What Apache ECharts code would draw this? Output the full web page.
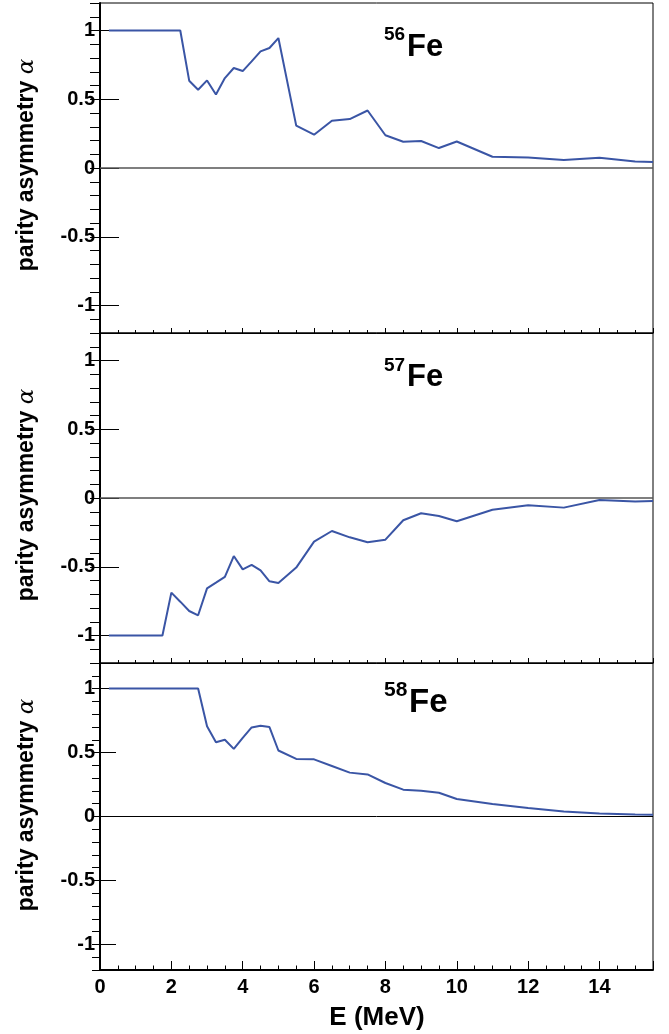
<!DOCTYPE html>
<html>
<head>
<meta charset="utf-8">
<script src="https://cdn.jsdelivr.net/npm/echarts@6/dist/echarts.min.js"></script>
<style>
html,body{margin:0;padding:0;background:#fff;}
#chart{width:669px;height:1034px;}
</style>
</head>
<body>
<div id="chart"></div>
<script>
// ---- data ----
const energies56 = [0.25, 2.25, 2.5, 2.75, 3.0, 3.25, 3.5, 3.75, 4.0, 4.25, 4.5, 4.75, 5.0, 5.5, 6.0, 6.5, 7.0, 7.5, 8.0, 8.5, 9.0, 9.5, 10, 11, 12, 13, 14, 15, 15.5];
const alpha56 = [1.0, 1.0, 0.635, 0.569, 0.637, 0.535, 0.654, 0.727, 0.705, 0.775, 0.848, 0.873, 0.945, 0.308, 0.242, 0.344, 0.356, 0.418, 0.238, 0.191, 0.196, 0.145, 0.193, 0.082, 0.076, 0.058, 0.075, 0.048, 0.044];

const energies57 = [0.25, 1.75, 2.0, 2.25, 2.5, 2.75, 3.0, 3.25, 3.5, 3.75, 4.0, 4.25, 4.5, 4.75, 5.0, 5.5, 6.0, 6.5, 7.0, 7.5, 8.0, 8.5, 9.0, 9.5, 10, 11, 12, 13, 14, 15, 15.5];
const alpha57 = [-1, -1, -0.688, -0.754, -0.822, -0.853, -0.657, -0.616, -0.574, -0.422, -0.519, -0.487, -0.526, -0.606, -0.618, -0.506, -0.317, -0.24, -0.286, -0.322, -0.303, -0.162, -0.111, -0.131, -0.169, -0.085, -0.053, -0.07, -0.014, -0.026, -0.022];

const energies58 = [0.25, 2.75, 3.0, 3.25, 3.5, 3.75, 4.0, 4.25, 4.5, 4.75, 5.0, 5.5, 6.0, 6.5, 7.0, 7.5, 8.0, 8.5, 9.0, 9.5, 10, 11, 12, 13, 14, 15, 15.5];
const alpha58 = [1, 1, 0.706, 0.581, 0.6, 0.529, 0.615, 0.696, 0.709, 0.699, 0.516, 0.45, 0.447, 0.395, 0.343, 0.329, 0.262, 0.21, 0.202, 0.186, 0.137, 0.097, 0.066, 0.039, 0.024, 0.016, 0.013];

const isotopes = ['56', '57', '58'];
const yTickValues = [-1, -0.5, 0, 0.5, 1];
const xTitle = 'E (MeV)';
const yTitle = 'parity asymmetry ';

// ---- layout ----
const FONT = '"Liberation Sans", Arial, Helvetica, sans-serif';
const grids = [
  {left: 100, top: 3, width: 553, height: 330},
  {left: 100, top: 333, width: 553, height: 330},
  {left: 100, top: 663, width: 553, height: 307}
];
const lineColor = '#3a55a5';
const energiesAll = [energies56, energies57, energies58];
const alphaAll = [alpha56, alpha57, alpha58];

const xAxes = [], yAxes = [], series = [];
grids.forEach((g, i) => {
  const bottom = i === 2;
  xAxes.push({
    gridIndex: i, type: 'value', min: 0, max: 15.5, interval: 2,
    axisLine: {show: true, onZero: false, lineStyle: {color: '#000', width: bottom ? 2 : 1}},
    axisTick: {show: true, inside: true, length: bottom ? 9 : 5, lineStyle: {color: '#000', width: 1}},
    minorTick: {show: true, splitNumber: 4, length: bottom ? 4.5 : 3, lineStyle: {color: '#000', width: 1}},
    axisLabel: {
      show: bottom, margin: 7, fontSize: 20, fontWeight: 'bold', color: '#000', fontFamily: FONT,
      formatter: v => (Math.abs(v % 2) < 1e-9 ? String(v) : '')
    },
    splitLine: {show: false}, minorSplitLine: {show: false}
  });
  const majorLen = bottom ? 16 : 19;
  const minorLen = bottom ? 8 : 10;
  yAxes.push({
    gridIndex: i, type: 'value', min: -1.2, max: 1.2,
    axisLine: {show: true, onZero: false, lineStyle: {color: '#000', width: 2}},
    axisTick: {show: true, inside: true, length: majorLen, customValues: yTickValues, lineStyle: {color: '#000', width: 1}},
    axisLabel: {show: true, customValues: yTickValues, margin: 5, fontSize: 20, fontWeight: 'bold', color: '#000', fontFamily: FONT},
    splitLine: {show: false}
  });
  yAxes.push({
    gridIndex: i, type: 'value', min: -1.2, max: 1.2, interval: 0.1,
    axisLine: {show: false},
    axisTick: {show: true, inside: true, length: minorLen, lineStyle: {color: '#000', width: 1}},
    axisLabel: {show: false},
    splitLine: {show: false}
  });
  series.push({
    type: 'line', xAxisIndex: i, yAxisIndex: 2 * i,
    data: energiesAll[i].map((e, k) => [e, alphaAll[i][k]]),
    symbol: 'none', lineStyle: {color: lineColor, width: 2}, z: 3,
    markLine: {
      silent: true, symbol: ['none', 'none'], label: {show: false},
      lineStyle: {color: bottom ? '#000' : '#555', width: bottom ? 1 : 1.5, type: 'solid'},
      data: [{yAxis: 0}], animation: false
    }
  });
});

// titles (isotope labels + axis titles)
const titlePos = [
  {sx: 384, sy: 35, fx: 407, fy: 47.5, ss: 19, fs: 31},
  {sx: 384, sy: 366, fx: 407, fy: 377.5, ss: 19, fs: 31},
  {sx: 384, sy: 690, fx: 409, fy: 703, ss: 21, fs: 33}
];
const yTitleCenters = [165, 495, 805];
const graphic = [];
titlePos.forEach((p, i) => {
  graphic.push({type: 'text', x: p.sx, y: p.sy, style: {text: isotopes[i], font: 'bold ' + p.ss + 'px ' + FONT, fill: '#000', align: 'left', verticalAlign: 'middle'}});
  graphic.push({type: 'text', x: p.fx, y: p.fy, style: {text: 'Fe', font: 'bold ' + p.fs + 'px ' + FONT, fill: '#000', align: 'left', verticalAlign: 'middle'}});
  graphic.push({
    type: 'text', x: 27, y: yTitleCenters[i], rotation: Math.PI / 2,
    style: {
      text: '{t|' + yTitle + '}{a|α}', align: 'center', verticalAlign: 'middle',
      rich: {
        t: {font: 'bold 23px ' + FONT, fill: '#000'},
        a: {font: 'italic 23px "DejaVu Serif", serif', fill: '#000'}
      }
    }
  });
});
graphic.push({type: 'text', x: 377, y: 1018, style: {text: xTitle, font: 'bold 26px ' + FONT, fill: '#000', align: 'center', verticalAlign: 'middle'}});

const chart = echarts.init(document.getElementById('chart'), null, {renderer: 'canvas'});
chart.setOption({
  animation: false,
  backgroundColor: '#fff',
  grid: grids.map(g => Object.assign({show: true, borderColor: '#000', borderWidth: 1, backgroundColor: 'transparent', containLabel: false}, g)),
  xAxis: xAxes,
  yAxis: yAxes,
  series: series,
  graphic: graphic
});
</script>
</body>
</html>
